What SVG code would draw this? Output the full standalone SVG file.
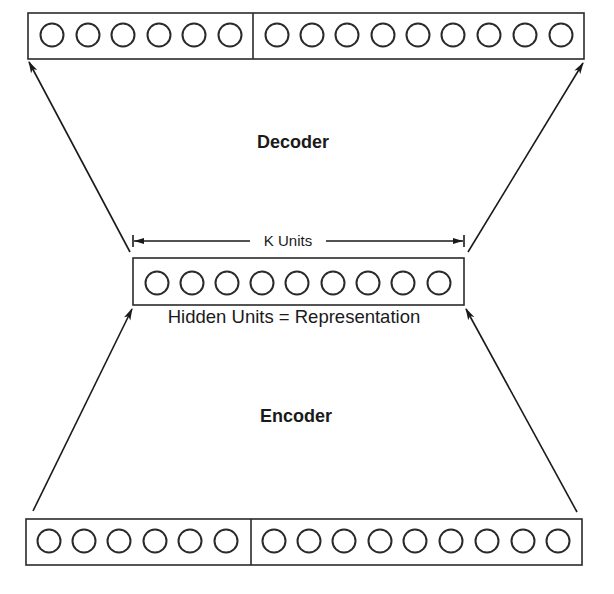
<svg xmlns="http://www.w3.org/2000/svg" width="614" height="594" viewBox="0 0 614 594">
<style>
.box{fill:none;stroke:#2a2a2a;stroke-width:1.6}
.u{fill:none;stroke:#2a2a2a;stroke-width:2}
.c{stroke:#1a1a1a;stroke-width:1.6;fill:none}
.lbl{font-family:"Liberation Sans",Arial,sans-serif;fill:#1a1a1a}
.b{font-weight:bold;font-size:18px}
</style>
<defs>
<marker id="ah" viewBox="0 0 12 8" refX="11" refY="4" markerWidth="12" markerHeight="8" markerUnits="userSpaceOnUse" orient="auto">
<path d="M0,0.5 L12,4 L0,7.5 L3,4 Z" fill="#1a1a1a"/>
</marker>
<marker id="dh" viewBox="0 0 10 8" refX="10" refY="4" markerWidth="10" markerHeight="8" markerUnits="userSpaceOnUse" orient="auto">
<path d="M0,1 L10,4 L0,7 Z" fill="#1a1a1a"/>
</marker>
</defs>
<rect width="614" height="594" fill="#fff"/>
<g id="output-layer">
<rect class="box" x="28" y="13" width="556" height="46"/>
<line class="box" x1="253" y1="13" x2="253" y2="59"/>
<g class="u">
<circle cx="52" cy="35" r="11.5"/><circle cx="88" cy="35" r="11.5"/><circle cx="123" cy="35" r="11.5"/><circle cx="159" cy="35" r="11.5"/><circle cx="194" cy="35" r="11.5"/><circle cx="230" cy="35" r="11.5"/>
<circle cx="277" cy="35" r="11.5"/><circle cx="312" cy="35" r="11.5"/><circle cx="347" cy="35" r="11.5"/><circle cx="383" cy="35" r="11.5"/><circle cx="418" cy="35" r="11.5"/><circle cx="453" cy="35" r="11.5"/><circle cx="489" cy="35" r="11.5"/><circle cx="525" cy="35" r="11.5"/><circle cx="561" cy="35" r="11.5"/>
</g>
</g>
<g id="hidden-layer">
<rect class="box" x="133" y="258" width="331" height="47"/>
<g class="u">
<circle cx="157" cy="283" r="11.5"/><circle cx="192" cy="283" r="11.5"/><circle cx="227" cy="283" r="11.5"/><circle cx="262" cy="283" r="11.5"/><circle cx="297" cy="283" r="11.5"/><circle cx="333" cy="283" r="11.5"/><circle cx="368" cy="283" r="11.5"/><circle cx="403" cy="283" r="11.5"/><circle cx="439" cy="283" r="11.5"/>
</g>
<text class="lbl" x="294" y="323" font-size="18.5" text-anchor="middle">Hidden Units = Representation</text>
</g>
<g id="input-layer">
<rect class="box" x="26" y="519" width="556" height="46"/>
<line class="box" x1="251" y1="519" x2="251" y2="565"/>
<g class="u">
<circle cx="49" cy="541" r="11.5"/><circle cx="84" cy="541" r="11.5"/><circle cx="119" cy="541" r="11.5"/><circle cx="155" cy="541" r="11.5"/><circle cx="190" cy="541" r="11.5"/><circle cx="226" cy="541" r="11.5"/>
<circle cx="274" cy="541" r="11.5"/><circle cx="309" cy="541" r="11.5"/><circle cx="344" cy="541" r="11.5"/><circle cx="380" cy="541" r="11.5"/><circle cx="415" cy="541" r="11.5"/><circle cx="451" cy="541" r="11.5"/><circle cx="487" cy="541" r="11.5"/><circle cx="523" cy="541" r="11.5"/><circle cx="558" cy="541" r="11.5"/>
</g>
</g>
<g id="k-units">
<line class="c" x1="133" y1="235" x2="133" y2="247"/>
<line class="c" x1="464" y1="235" x2="464" y2="247"/>
<line class="c" x1="250" y1="241" x2="134" y2="241" marker-end="url(#dh)"/>
<line class="c" x1="326" y1="241" x2="463" y2="241" marker-end="url(#dh)"/>
<text class="lbl" x="288" y="246" font-size="15" text-anchor="middle">K Units</text>
</g>
<g id="labels">
<text class="lbl b" x="293" y="148" text-anchor="middle">Decoder</text>
<text class="lbl b" x="296" y="422" text-anchor="middle">Encoder</text>
</g>
<g id="connectors">
<line class="c" x1="33" y1="511" x2="132" y2="309" marker-end="url(#ah)"/>
<line class="c" x1="577" y1="512" x2="466" y2="309" marker-end="url(#ah)"/>
<line class="c" x1="130" y1="252" x2="29" y2="62" marker-end="url(#ah)"/>
<line class="c" x1="468" y1="252" x2="583" y2="63" marker-end="url(#ah)"/>
</g>
</svg>
